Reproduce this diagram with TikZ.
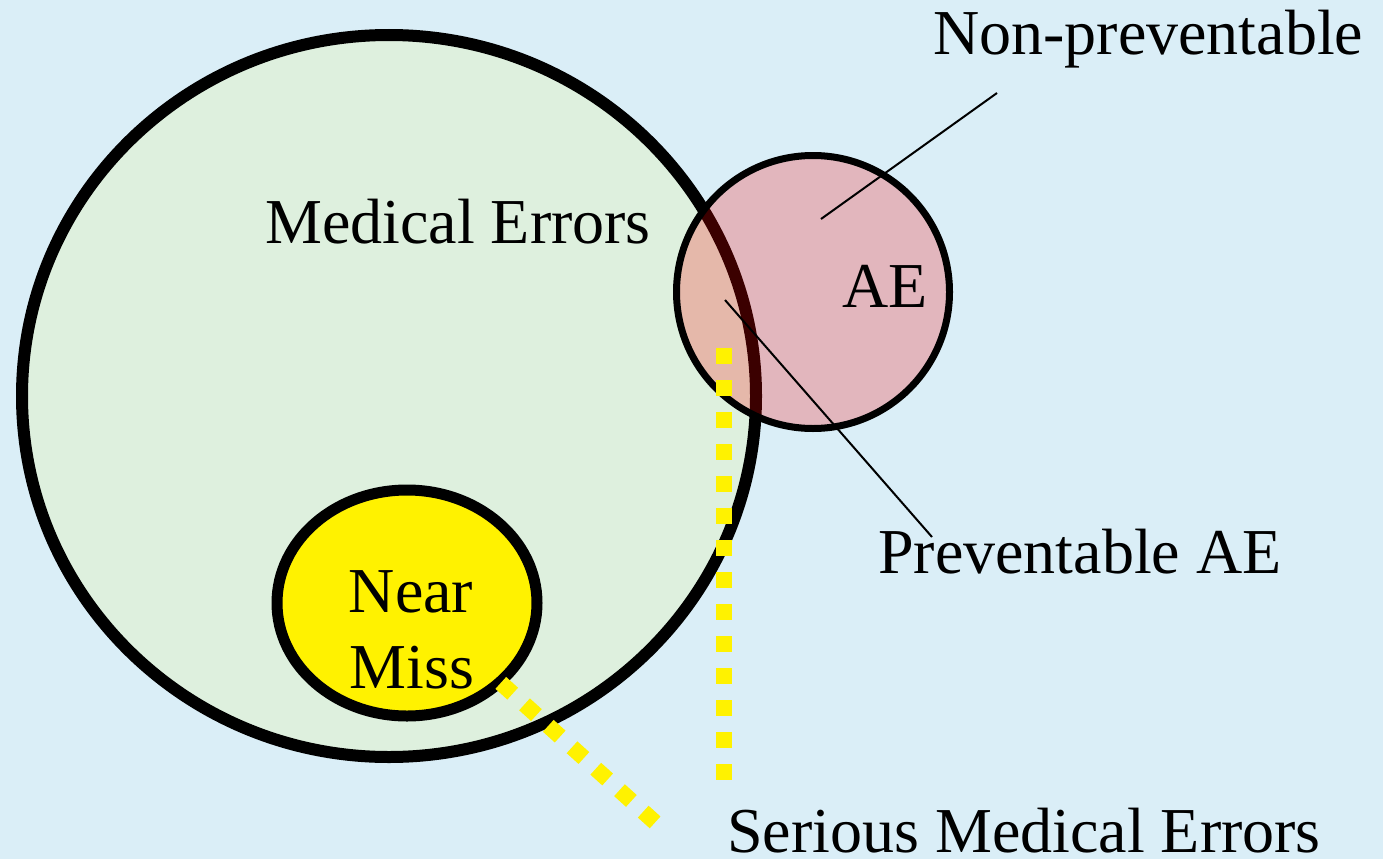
\documentclass[tikz,border=0pt]{standalone}
\usepackage{fontspec}
\setmainfont{Liberation Serif}
\usetikzlibrary{shapes.geometric}
\definecolor{bgblue}{RGB}{218,238,247}
\definecolor{megreen}{RGB}{222,240,222}
\begin{document}
\begin{tikzpicture}[x=1pt,y=-1pt,
  lbl/.style={inner sep=0pt, anchor=base west, font=\fontsize{64}{76}\selectfont},
  yellowdots/.style={draw=yellow, line width=16pt, dash pattern=on 16pt off 16pt},
  leader/.style={draw=black, line width=2pt}]
\fill[bgblue] (0,0) rectangle (1383,859);
\useasboundingbox (0,0) rectangle (1383,859);
% big circle
\node[ellipse, draw=black, line width=12pt, fill=megreen, minimum width=734pt, minimum height=722pt, inner sep=0pt] (me) at (389,396) {};
% AE circle
\node[circle, draw=black, line width=7pt, fill=red, fill opacity=0.23, draw opacity=1, minimum size=273pt, inner sep=0pt] (ae) at (813,292) {};
% near miss
\node[ellipse, draw=black, line width=11pt, fill=yellow, minimum width=260pt, minimum height=226pt, inner sep=0pt] (nm) at (407,603) {};
% yellow dotted lines
\coordinate (v1) at (724,348);
\coordinate (v2) at (724,780);
\coordinate (d1) at (500.8,682.9);
\coordinate (d2) at (655.9,823.1);
\draw[yellowdots] (v1) -- (v2);
\draw[yellowdots] (d1) -- (d2);
% texts
\node[lbl] (tme) at (265,243) {Medical Errors};
\node[lbl] (tae) at (842,307) {AE};
\node[lbl] (tnp) at (933,55) {Non-preventable};
\node[lbl] (tpa) at (878,573) {Preventable AE};
\node[lbl] (tsme) at (727,852) {Serious Medical Errors};
\node[lbl, anchor=base] (tnear) at (411,612) {Near};
\node[lbl, anchor=base] (tmiss) at (412,688) {Miss};
% leader lines
\coordinate (np1) at (997,93);
\coordinate (np2) at (821,219);
\coordinate (pa1) at (725,300);
\coordinate (pa2) at (932,537);
\draw[leader] (np1) -- (np2);
\draw[leader] (pa1) -- (pa2);
\end{tikzpicture}
\end{document}
